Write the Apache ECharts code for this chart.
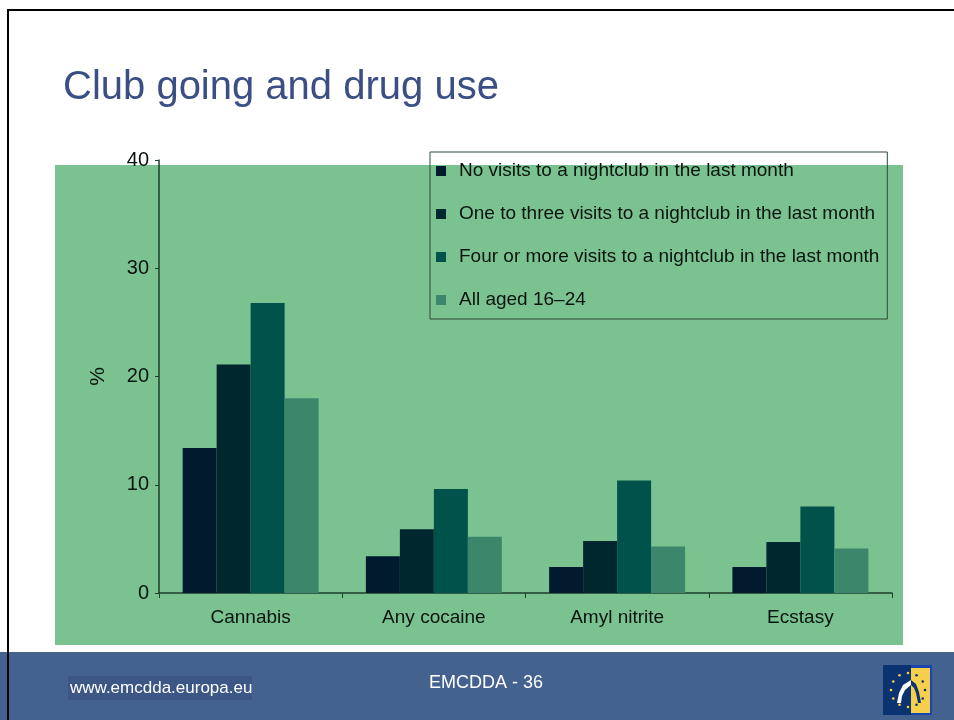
<!DOCTYPE html>
<html>
<head>
<meta charset="utf-8">
<title>Club going and drug use</title>
<script src="https://cdn.jsdelivr.net/npm/echarts@6/dist/echarts.min.js"></script>
<style>
  html, body { margin: 0; padding: 0; background: #ffffff; }
  #chart { width: 954px; height: 720px; }
</style>
</head>
<body>
<div id="chart"></div>
<script>
// Categories and per-group percentages
const categories = ['Cannabis', 'Any cocaine', 'Amyl nitrite', 'Ecstasy'];
const seriesNames = [
  'No visits to a nightclub in the last month',
  'One to three visits to a nightclub in the last month',
  'Four or more visits to a nightclub in the last month',
  'All aged 16\u201324'
];
const noVisits   = [13.4, 3.4, 2.4, 2.4];
const oneToThree = [21.1, 5.9, 4.8, 4.7];
const fourOrMore = [26.8, 9.6, 10.4, 8.0];
const allAged    = [18.0, 5.2, 4.3, 4.1];
const seriesValues = [noVisits, oneToThree, fourOrMore, allAged];
const barColors = ['#011a2d', '#00262e', '#01524a', '#3c876b'];

const FONT = '"Liberation Sans", Arial, sans-serif';
const AXIS_COLOR = '#1c3f29';

const chart = echarts.init(document.getElementById('chart'), null, { renderer: 'canvas' });

// Small stars of the footer emblem, placed on a ring
const starCenters = [];
for (let k = 0; k < 12; k++) {
  const a = (k / 12) * Math.PI * 2;
  starCenters.push([908 + 17 * Math.cos(a), 690 + 17 * Math.sin(a)]);
}

const slideGraphics = [
  // green chart panel
  { type: 'rect', z: -10, shape: { x: 55, y: 165, width: 848, height: 480 }, style: { fill: '#7bc291' } },
  // footer band
  { type: 'rect', z: -10, shape: { x: 0, y: 652, width: 954, height: 68 }, style: { fill: '#44628f' } },
  // slide frame (top and left edges)
  { type: 'rect', z: 10, shape: { x: 7, y: 9, width: 947, height: 2 }, style: { fill: '#000000' } },
  { type: 'rect', z: 10, shape: { x: 7, y: 9, width: 2, height: 711 }, style: { fill: '#000000' } },
  // footer web address
  { type: 'rect', z: -5, shape: { x: 68, y: 676, width: 184, height: 24 }, style: { fill: '#3c5785' } },
  { type: 'text', z: 5, x: 70, y: 688, style: { text: 'www.emcdda.europa.eu', fill: '#ffffff', font: '17px ' + FONT, textVerticalAlign: 'middle' } },
  // page number
  { type: 'text', z: 5, x: 486, y: 683, style: { text: 'EMCDDA - 36', fill: '#ffffff', font: '18px ' + FONT, textAlign: 'center', textVerticalAlign: 'middle' } },
  // emblem
  { type: 'rect', z: 5, shape: { x: 883, y: 665, width: 28, height: 50 }, style: { fill: '#0b3371' } },
  { type: 'rect', z: 5, shape: { x: 911, y: 665, width: 21, height: 50 }, style: { fill: '#1846b0' } },
  { type: 'rect', z: 6, shape: { x: 911, y: 668, width: 19, height: 45 }, style: { fill: '#f6d04d' } },
  { type: 'polygon', z: 7, shape: { points: [[897, 703], [899, 693], [903, 685], [911, 680], [911, 685], [905, 690], [902, 696], [901, 703]] }, style: { fill: '#ffffff' } },
  { type: 'polygon', z: 7, shape: { points: [[911, 680], [916, 684], [919, 692], [921, 703], [918, 703], [916, 693], [914, 688], [911, 685]] }, style: { fill: '#0b3371' } }
].concat(starCenters.map(c => ({
  type: 'circle', z: 8, shape: { cx: c[0], cy: c[1], r: 1.3 },
  style: { fill: c[0] < 911 ? '#f6d04d' : '#0b3371' }
})));

const option = {
  backgroundColor: '#ffffff',
  animation: false,
  title: {
    text: 'Club going and drug use',
    left: 58,
    top: 63,
    textStyle: { fontFamily: FONT, fontSize: 40, fontWeight: 'normal', color: '#3b4f85' }
  },
  legend: {
    orient: 'vertical',
    left: 430,
    top: 152,
    padding: [7, 8, 7, 6],
    itemGap: 19,
    itemWidth: 10,
    itemHeight: 10,
    icon: 'rect',
    borderColor: '#2e4a38',
    borderWidth: 1,
    data: seriesNames,
    textStyle: { fontFamily: FONT, fontSize: 19, lineHeight: 24, color: '#0a140e', padding: [0, 0, 0, 8] }
  },
  grid: { left: 159, right: 62, top: 160, bottom: 127, containLabel: false },
  xAxis: {
    type: 'category',
    data: categories,
    axisLine: { lineStyle: { color: AXIS_COLOR, width: 1.5 } },
    axisTick: { show: true, length: 5, lineStyle: { color: AXIS_COLOR } },
    axisLabel: { fontFamily: FONT, fontSize: 19, color: '#0a140e', margin: 15 }
  },
  yAxis: {
    type: 'value',
    min: 0,
    max: 40,
    interval: 10,
    name: '%',
    nameLocation: 'middle',
    nameRotate: 90,
    nameGap: 50,
    nameTextStyle: { fontFamily: FONT, fontSize: 21, color: '#0a140e' },
    axisLine: { show: true, lineStyle: { color: AXIS_COLOR, width: 1.5 } },
    axisTick: { show: true, length: 4, lineStyle: { color: AXIS_COLOR } },
    axisLabel: { fontFamily: FONT, fontSize: 20, color: '#0a140e', margin: 10 },
    splitLine: { show: false }
  },
  series: seriesNames.map((name, i) => ({
    name: name,
    type: 'bar',
    data: seriesValues[i],
    barGap: '0%',
    barCategoryGap: '25.8%',
    itemStyle: { color: barColors[i] }
  })),
  graphic: { elements: slideGraphics }
};

chart.setOption(option);
</script>
</body>
</html>
